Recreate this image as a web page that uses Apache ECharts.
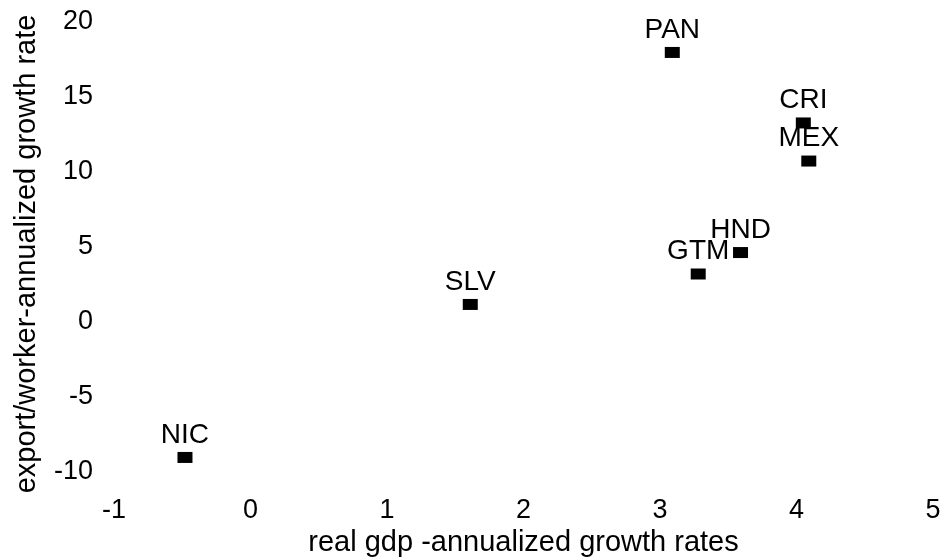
<!DOCTYPE html>
<html>
<head>
<meta charset="utf-8">
<script src="https://cdn.jsdelivr.net/npm/echarts@6/dist/echarts.min.js"></script>
<style>
  html, body { margin: 0; padding: 0; background: #fff; }
  #chart { width: 944px; height: 558px; }
</style>
</head>
<body>
<div id="chart"></div>
<script>
// Country codes and their growth figures
const countries = ['PAN', 'CRI', 'MEX', 'HND', 'GTM', 'SLV', 'NIC'];
const gdpGrowth = [3.09, 4.05, 4.09, 3.59, 3.28, 1.61, -0.48];
const exportGrowth = [17.97, 13.27, 10.73, 4.63, 3.2, 1.17, -9.03];

const xTicks = [-1, 0, 1, 2, 3, 4, 5];
const yTicks = [-10, -5, 0, 5, 10, 15, 20];

const FONT = 'Liberation Sans, Arial, sans-serif';

const points = countries.map((c, i) => ({ name: c, value: [gdpGrowth[i], exportGrowth[i]] }));

const chart = echarts.init(document.getElementById('chart'), null, { renderer: 'canvas' });
chart.setOption({
  animation: false,
  backgroundColor: '#ffffff',
  grid: { left: 114, right: 11, top: 22, bottom: 86, outerBoundsMode: 'none' },
  xAxis: {
    type: 'value',
    min: xTicks[0],
    max: xTicks[xTicks.length - 1],
    interval: 1,
    name: 'real gdp -annualized growth rates',
    nameLocation: 'middle',
    nameGap: 51,
    nameTextStyle: { fontFamily: FONT, fontSize: 29, color: '#000' },
    axisLine: { show: false },
    axisTick: { show: false },
    splitLine: { show: false },
    axisLabel: { fontFamily: FONT, fontSize: 27, color: '#000', margin: 25 }
  },
  yAxis: {
    type: 'value',
    min: yTicks[0],
    max: yTicks[yTicks.length - 1],
    interval: 5,
    name: 'export/worker-annualized growth rate',
    nameLocation: 'middle',
    nameGap: 73,
    nameTextStyle: { fontFamily: FONT, fontSize: 29, color: '#000', padding: [0, 14, 0, 0] },
    axisLine: { show: false },
    axisTick: { show: false },
    splitLine: { show: false },
    axisLabel: { fontFamily: FONT, fontSize: 27, color: '#000', margin: 21 }
  },
  series: [{
    type: 'scatter',
    symbol: 'rect',
    symbolSize: [15, 11],
    itemStyle: { color: '#000', opacity: 1 },
    data: points,
    label: {
      show: true,
      position: 'top',
      distance: 3,
      formatter: p => p.name,
      fontFamily: FONT,
      fontSize: 28,
      color: '#000',
      opacity: 1
    }
  }]
});
</script>
</body>
</html>
